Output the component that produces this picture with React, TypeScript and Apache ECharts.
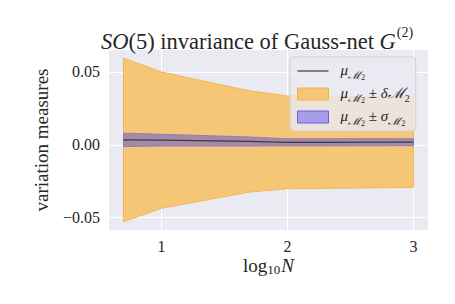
import React, { useEffect, useRef } from "react";
import * as echarts from "echarts";

// log10 N sample points
const logN = [0.699, 1, 1.699, 2, 3];
// mean of M2
const meanM2 = [0.0034, 0.0032, 0.0023, 0.0017, 0.0018];
// delta M2 (half width of orange band)
const deltaM2 = [0.0561, 0.0467, 0.0347, 0.0318, 0.031];
// sigma M2 (half width of purple band)
const sigmaM2 = [0.0046, 0.004, 0.0031, 0.0024, 0.0024];

const xTicks = [1, 2, 3];
const yTicks = [-0.05, 0, 0.05];

const SERIF = "Liberation Serif";
const TXT = "#262626";

export default function App() {
  const ref = useRef<HTMLDivElement>(null);
  useEffect(() => {
    if (!ref.current) return;
    const chart = echarts.init(ref.current, undefined, { renderer: "svg" });

    const band = (half: number[], fill: string, stroke: string) => (params: any, api: any) => {
      if (params.dataIndex !== 0) return null;
      const up = logN.map((x, i) => api.coord([x, meanM2[i] + half[i]]));
      const lo = logN.map((x, i) => api.coord([x, meanM2[i] - half[i]])).reverse();
      return {
        type: "polygon",
        shape: { points: [...up, ...lo] },
        style: { fill, stroke, lineWidth: 1 },
      };
    };

    const base = { fontFamily: SERIF, color: TXT, fontWeight: "normal" as const, verticalAlign: "top" as const };
    const legendRich = {
      i: { ...base, fontStyle: "italic", fontSize: 15, lineHeight: 18 },
      r: { ...base, fontSize: 15, lineHeight: 18 },
      s: { ...base, fontStyle: "italic", fontSize: 11, lineHeight: 11, padding: [7, 0, 0, 0] },
      ss: { ...base, fontSize: 8, lineHeight: 8, padding: [11, 0, 0, 0] },
      c: { ...base, fontStyle: "italic", fontSize: 15, lineHeight: 18 },
      s2: { ...base, fontSize: 10, lineHeight: 10, padding: [8, 0, 0, 0] },
    };
    const mu = "{i|μ}{s|ℳ}{ss|2}";
    const labels: Record<string, string> = {
      mean: mu,
      delta: mu + "{r| ± }{i|δ}{c|ℳ}{s2|2}",
      sigma: mu + "{r| ± }{i|σ}{s|ℳ}{ss|2}",
    };

    chart.setOption({
      animation: false,
      backgroundColor: "#ffffff",
      textStyle: { fontFamily: SERIF, color: TXT },
      title: {
        text: "{i|SO}{r|(5) invariance of Gauss-net }{i|G}{sup|(2)}",
        left: 252,
        textAlign: "center",
        top: 20,
        textStyle: {
          fontWeight: "normal",
          fontFamily: SERIF,
          rich: {
            i: { ...base, fontStyle: "italic", fontSize: 22.5, lineHeight: 24, padding: [5, 0, 0, 0] },
            r: { ...base, fontSize: 22.5, lineHeight: 24, padding: [5, 0, 0, 0] },
            sup: { ...base, fontSize: 14, lineHeight: 14, padding: [0, 0, 0, 1] },
          },
        },
      },
      grid: { left: 109, top: 50, width: 319, height: 180, backgroundColor: "#EAEAF2", show: true, borderWidth: 0 },
      legend: {
        orient: "vertical",
        left: 290,
        top: 57,
        itemWidth: 31,
        itemHeight: 12,
        itemGap: 4,
        backgroundColor: "rgba(234,234,242,0.8)",
        borderColor: "#d0d0d0",
        borderWidth: 1,
        borderRadius: 4,
        padding: [5, 6, 4, 7],
        selectedMode: false,
        data: [
          { name: "mean", icon: "path://M0,0 L31,0 L31,1.2 L0,1.2 Z", itemStyle: { color: "#3a3a3a" } },
          { name: "delta", icon: "rect", itemStyle: { color: "#F6C677", borderColor: "#F4B24E", borderWidth: 1 } },
          { name: "sigma", icon: "rect", itemStyle: { color: "#A79EE8", borderColor: "#6E5FE0", borderWidth: 1 } },
        ],
        formatter: (name: string) => labels[name],
        textStyle: { padding: [0, 0, 0, 7], rich: legendRich },
      },
      xAxis: {
        type: "value",
        min: 0.584,
        max: 3.115,
        name: "{r|log}{sub|10}{i|N}",
        nameLocation: "middle",
        nameGap: 26,
        nameMoveOverlap: false,
        nameTextStyle: {
          rich: {
            r: { ...base, fontSize: 19, lineHeight: 17 },
            sub: { ...base, fontSize: 13, lineHeight: 13, padding: [7, 1, 0, 0] },
            i: { ...base, fontStyle: "italic", fontSize: 19, lineHeight: 17 },
          },
        },
        axisLine: { show: false },
        axisTick: { show: false, customValues: xTicks },
        axisLabel: { customValues: xTicks, fontFamily: SERIF, fontSize: 16, lineHeight: 16, color: TXT, margin: 8 },
        splitLine: { show: true, lineStyle: { color: "#ffffff", width: 1 } },
      },
      yAxis: {
        type: "value",
        min: -0.0584,
        max: 0.065,
        name: "variation measures",
        nameLocation: "middle",
        nameGap: 58,
        nameMoveOverlap: false,
        nameTextStyle: { fontFamily: SERIF, fontSize: 19, color: TXT },
        axisLine: { show: false },
        axisTick: { show: false, customValues: yTicks },
        axisLabel: {
          customValues: yTicks,
          fontFamily: SERIF,
          fontSize: 16,
          color: TXT,
          margin: 9,
          formatter: (v: number) => v.toFixed(2).replace("-", "−"),
        },
        splitLine: { show: true, lineStyle: { color: "#ffffff", width: 1 } },
      },
      series: [
        {
          name: "delta",
          type: "custom",
          renderItem: band(deltaM2, "#F6C677", "#F4B756"),
          data: logN.map((x, i) => [x, meanM2[i]]),
          z: 1,
        },
        {
          name: "sigma",
          type: "custom",
          renderItem: band(sigmaM2, "#A48AA8", "#957BBD"),
          data: logN.map((x, i) => [x, meanM2[i]]),
          z: 2,
        },
        {
          name: "mean",
          type: "line",
          data: logN.map((x, i) => [x, meanM2[i]]),
          symbol: "none",
          lineStyle: { color: "#3a3a3a", width: 1.2 },
          itemStyle: { color: "#3a3a3a" },
          z: 3,
        },
      ],
    });
    return () => chart.dispose();
  }, []);
  return <div ref={ref} style={{ position: "fixed", left: 0, top: 0, width: 455, height: 304 }} />;
}
